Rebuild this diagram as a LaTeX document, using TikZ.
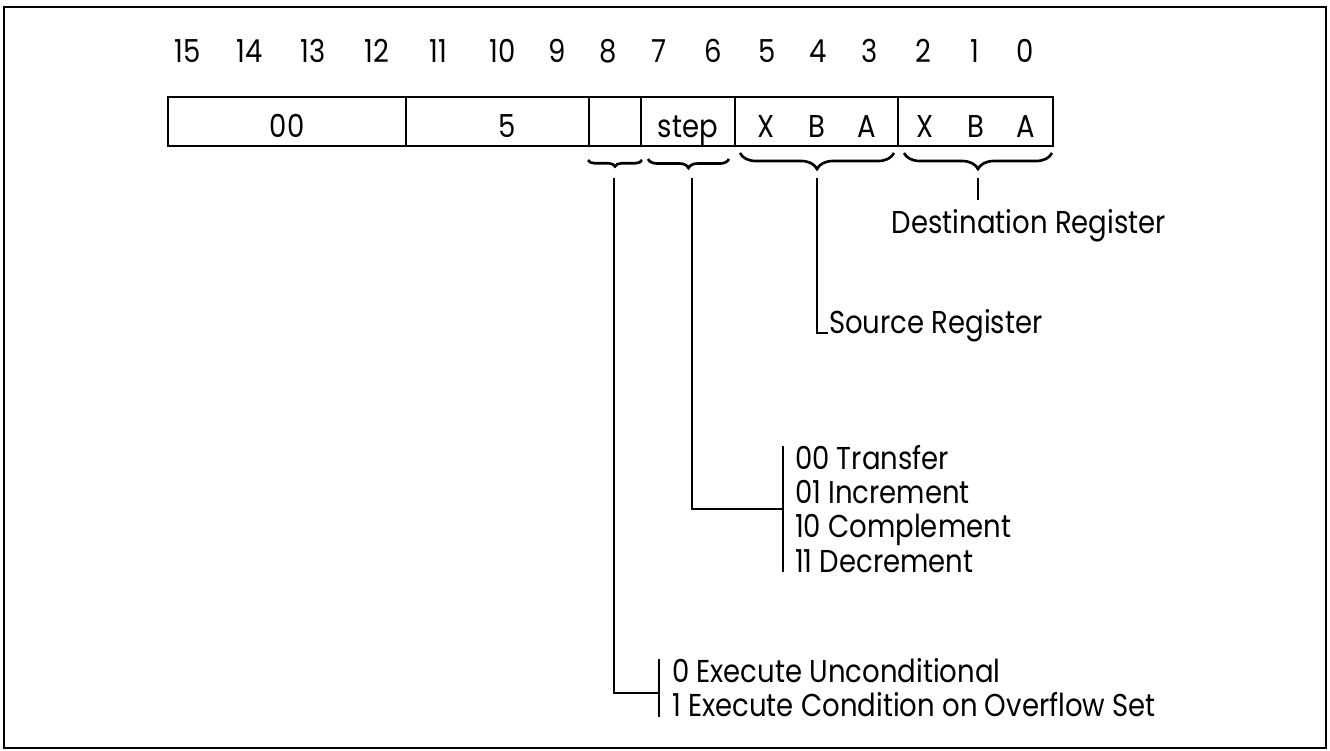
\documentclass[tikz,border=0pt]{standalone}
\usepackage{fontspec}
\setmainfont{Poppins}[FakeStretch=0.87]
\usetikzlibrary{decorations.pathreplacing}

\begin{document}
\begin{tikzpicture}[x=0.02cm,y=-0.02cm,line width=1.2pt,
  every node/.style={font=\fontsize{18}{19.4}\selectfont},
  field/.style={draw,line width=1.3pt,minimum height=0.98cm,inner sep=0pt,outer sep=0pt,
    text height=0.62cm,text depth=0pt},
  fieldbrace/.style={decorate,decoration={brace,mirror,amplitude=#1},line width=1.5pt},
  choices/.style={anchor=west,align=left,inner xsep=0.24cm,inner ysep=0pt,outer sep=0pt}]
  \useasboundingbox (0,0) rectangle (1330,751);
  \draw (4,7) rectangle (1326,748);
  % bit numbers
  \foreach \b/\x in {15/188,14/250,13/313,12/377,11/438,10/503,9/557,8/608,
                     7/659,6/713,5/767,4/818,3/870,2/923,1/975,0/1025}
    \node (bit\b) at (\x,51) {\b};
  % instruction fields
  \node[field,minimum width=4.76cm] (grp) at (287,121.5) {00};
  \node[field,minimum width=3.66cm] (opc) at (497.5,121.5) {\hspace{0.4cm}5};
  \node[field,minimum width=1.04cm] (cond) at (615,121.5) {};
  \node[field,minimum width=1.88cm] (stepf) at (688,121.5) {step};
  \node[field,minimum width=3.26cm] (src) at (816.5,121.5)
    {\makebox[1cm]{X}\makebox[1cm]{B}\makebox[1cm]{A}};
  \node[field,minimum width=3.10cm] (dst) at (975.5,121.5)
    {\makebox[1cm]{X}\makebox[1cm]{B}\makebox[1cm]{A}};
  % braces under the fields
  \draw[fieldbrace=0.13cm] (588,160) -- (642,160);
  \draw[fieldbrace=0.18cm] (648,159) -- (729,159);
  \draw[fieldbrace=0.32cm] (740,153) -- (894,153);
  \draw[fieldbrace=0.32cm] (904,153) -- (1052,153);
  \coordinate (condtip) at (614,178);
  \coordinate (steptip) at (692,178);
  \coordinate (srctip) at (817,178);
  \coordinate (dsttip) at (978,178);
  % labels
  \node[anchor=north,inner sep=0pt] (dstlbl) at (1029,208) {Destination Register};
  \node[anchor=base west,inner sep=0pt] (srclbl) at (828,333) {Source Register};
  \node[choices] (steplist) at (783,509)
    {00 Transfer\\01 Increment\\10 Complement\\11 Decrement};
  \node[choices,inner xsep=0.26cm] (condlist) at (659,688)
    {0 Execute Unconditional\\1 Execute Condition on Overflow Set};
  \draw (steplist.north west) -- (steplist.south west);
  \draw (condlist.north west) -- (condlist.south west);
  % connectors
  \draw (dsttip) -- ([yshift=0.16cm]dsttip |- dstlbl.north);
  \draw (srctip) |- (srclbl.base west);
  \draw (steptip) |- (steplist.west);
  \draw (condtip) |- ([yshift=-0.1cm]condlist.west);
\end{tikzpicture}
\end{document}
